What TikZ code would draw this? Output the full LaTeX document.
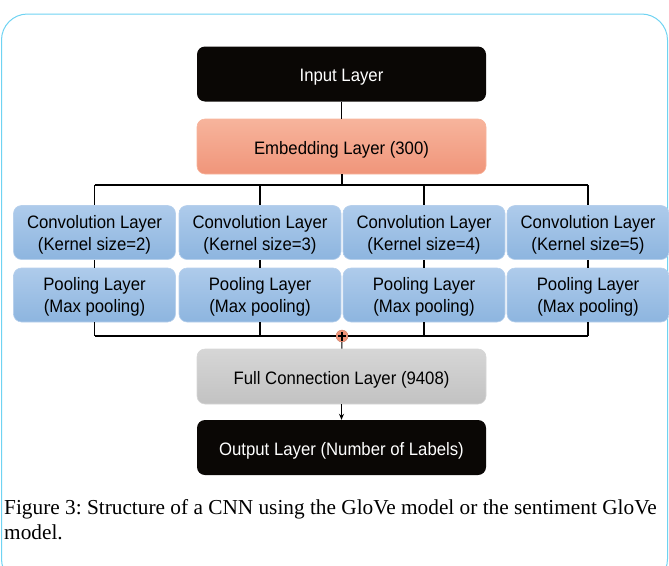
\documentclass[tikz,border=0pt]{standalone}
\usepackage{fontspec}
\setmainfont{Liberation Serif}
\newfontfamily\diagfont[FakeStretch=0.93]{Liberation Sans}
\usetikzlibrary{arrows.meta}
\definecolor{frameblue}{HTML}{6FD3F2}
\definecolor{blocktop}{HTML}{AECBEB}
\definecolor{blockbot}{HTML}{8DB5DF}
\definecolor{blockedge}{HTML}{B7D0EC}
\definecolor{salmontop}{HTML}{F7B49C}
\definecolor{salmonbot}{HTML}{F0957A}
\definecolor{graytop}{HTML}{D6D6D6}
\definecolor{graybot}{HTML}{C2C2C2}
\definecolor{inkblack}{HTML}{0A0705}
\tikzset{
  layerbox/.style={rectangle, rounded corners=8pt, minimum width=289pt,
    minimum height=55pt, inner sep=0pt, align=center,
    text height=15pt, text depth=0pt,
    font=\diagfont\fontsize{18}{21}\selectfont},
  darkbox/.style={layerbox, fill=inkblack, text=white},
  embedbox/.style={layerbox, top color=salmontop, bottom color=salmonbot, draw=salmontop, line width=0.6pt},
  fcbox/.style={layerbox, top color=graytop, bottom color=graybot, draw=graytop, line width=0.6pt},
  branchbox/.style={rectangle, rounded corners=8pt, minimum width=162pt,
    minimum height=54pt, inner sep=0pt, align=center, text depth=0pt,
    top color=blocktop, bottom color=blockbot, draw=blockedge, line width=0.6pt,
    font=\diagfont\fontsize{18}{22}\selectfont},
  wire/.style={line width=1.1pt, draw=black},
  sumnode/.style={circle, fill=salmonbot, draw=salmonbot!85!black, line width=0.4pt,
    minimum size=12pt, inner sep=0pt},
}
\begin{document}
\begin{tikzpicture}[x=1pt, y=-1pt]
  \useasboundingbox (0,0) rectangle (669,565);
  \begin{scope}
    \clip (0,0) rectangle (669,565);
    \draw[frameblue, line width=1pt, rounded corners=26pt] (1.5,14) rectangle (667.5,585);
  \end{scope}

  % main column
  \node[darkbox] (in) at (341.5,74) {Input Layer};
  \node[embedbox] (emb) at (341.5,146.5) {Embedding Layer (300)};

  % four parallel branches
  \foreach \i/\x/\k in {1/94.5/2, 2/260/3, 3/424/4, 4/588/5} {
    \node[branchbox] (conv\i) at (\x,232.5) {Convolution Layer\\(Kernel size=\k)};
    \node[branchbox] (pool\i) at (\x,295) {Pooling Layer\\(Max pooling)};
  }

  \node[sumnode] (sum) at (342,336) {};
  \node[fcbox] (fc) at (341.5,376.5) {Full Connection Layer (9408)};
  \node[darkbox] (out) at (341.5,447.5) {Output Layer (Number of Labels)};

  % split bus above the branches and merge bus below them
  \coordinate (split) at (342,185);
  \coordinate (splitL) at (94.5,185);
  \coordinate (splitR) at (588,185);
  \coordinate (mergeL) at (94.5,336);
  \coordinate (mergeR) at (588,336);

  \draw[wire] (in) -- (emb);
  \draw[wire] (emb.south -| split) -- (split);
  \draw[wire] (splitL) -- (splitR);
  \draw[wire] (mergeL) -- (sum.west);
  \draw[wire] (sum.east) -- (mergeR);
  \foreach \i in {1,2,3,4} {
    \draw[wire] (conv\i.north |- split) -- (conv\i.north);
    \draw[wire] (conv\i.south) -- (pool\i.north);
    \draw[wire] (pool\i.south) -- (pool\i.south |- mergeL);
  }
  % plus sign inside the summing junction
  \draw[line width=1.2pt] ([xshift=-4pt]sum.center) -- ([xshift=4pt]sum.center);
  \draw[line width=1.2pt] ([yshift=-4.5pt]sum.center) -- ([yshift=4.5pt]sum.center);
  \draw[wire] (sum) -- (fc);
  \draw[wire, -{Stealth[length=6pt, width=5pt]}] (fc) -- (out);

  % caption
  \node[anchor=base west, inner sep=0pt, align=left,
    font=\frenchspacing\fontsize{21.3}{24.5}\selectfont] (cap) at (4,539)
    {Figure 3: Structure of a CNN using the GloVe model or the sentiment GloVe\\model.};
\end{tikzpicture}
\end{document}
